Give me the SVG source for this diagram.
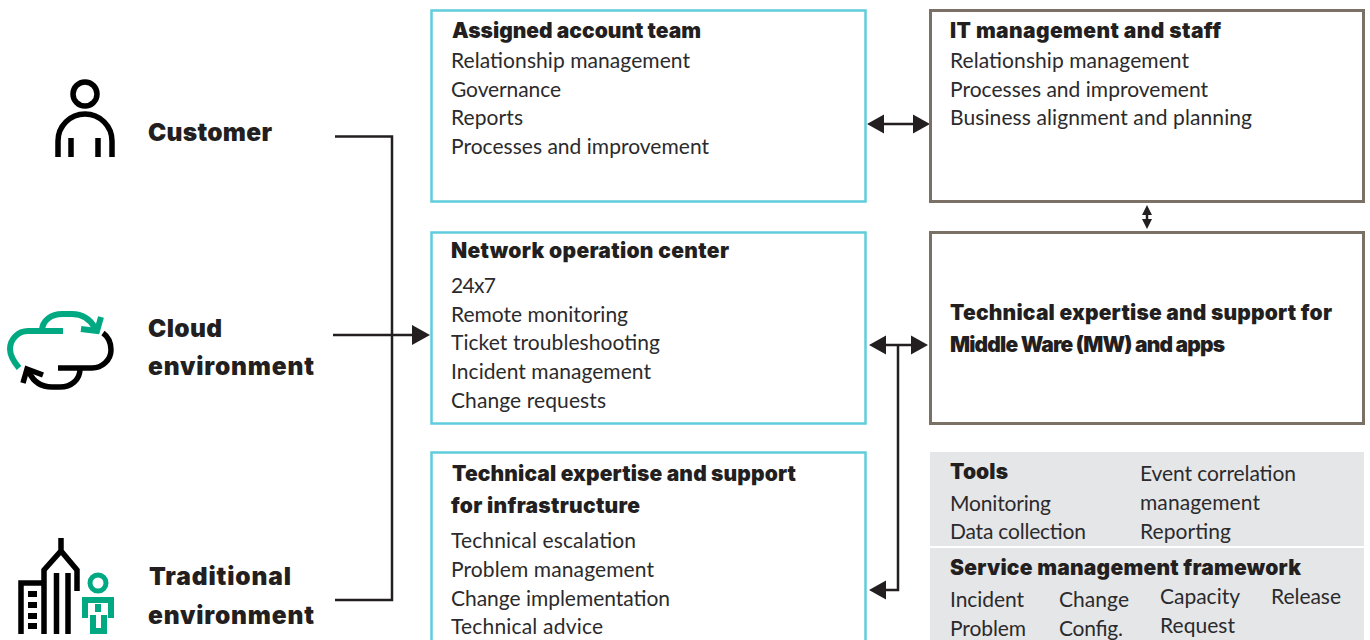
<svg xmlns="http://www.w3.org/2000/svg" width="1370" height="640" viewBox="0 0 1370 640">
<style>
text{font-family:"Lato","Open Sans","Liberation Sans",sans-serif;fill:#2b2a2c;font-size:21px}
.b{font-family:"Inter","Lato",sans-serif;font-weight:900;font-size:21px;fill:#231f20}
.l{font-family:"Inter","Lato",sans-serif;font-weight:900;font-size:24.500px;fill:#231f20}
.teal{fill:#fff;stroke:#5fcddb;stroke-width:2.5}
.brown{fill:#fff;stroke:#7a7066;stroke-width:3}
.gray{fill:#e5e6e8}
.ln{fill:none;stroke:#231f20;stroke-width:2.5}
.k{fill:none;stroke:#000;stroke-width:5.500}
.g{fill:none;stroke:#01a982;stroke-width:6}
.h{fill:#231f20}
</style>
<rect width="1370" height="640" fill="#fff"/>
<g id="icon-customer">
<circle class="k" cx="85" cy="94" r="12"/>
<path class="k" d="M58,157V141A27,27 0 0 1 112,141V157M71,138V157M98,138V157"/>
</g>
<g id="icon-cloud">
<path class="g" d="M63,331H28A18,18 0 0 0 10,349C10,356 14,362 19,368M42,331C42,320 52,314 62,314H72C82,314 90,319 95,328"/>
<path class="g" d="M81,329L97,331L101,317"/>
<path class="k" d="M103,333C110,338 111,344 111,350C111,360 102,368 92,368H58M80,369C80,380 71,387 60,387H52C42,387 34,383 29,372"/>
<path class="k" d="M43,375L27,369L23,383"/>
</g>
<g id="icon-traditional">
<path class="k" d="M21,634V583H44M44,634V570L61,551L77,570V591M61,538V552M56.500,573V634M68,573V634"/>
<path d="M28,591h9v6h-9zM28,602h9v6h-9zM28,613h9v6h-9zM28,623h9v6h-9z" fill="#000"/>
<circle cx="98" cy="583" r="8" fill="none" stroke="#01a982" stroke-width="5"/>
<path class="g" d="M85,618V600H111V618"/>
<path d="M95,604h6v8h-6z" fill="#01a982"/>
<path class="g" stroke-width="4.500" d="M93,615V631H104V615"/>
</g>
<g id="label-customer"><text class="l" x="148" y="141" textLength="124">Customer</text></g>
<g id="label-cloud"><text class="l" x="148" y="337" textLength="74">Cloud</text><text class="l" x="148" y="375" textLength="166">environment</text></g>
<g id="label-traditional"><text class="l" x="149" y="585" textLength="142">Traditional</text><text class="l" x="148" y="624" textLength="166">environment</text></g>
<g id="connectors">
<path class="ln" d="M335,136.500H392V600H335M333,335H415"/>
<path class="h" d="M430,335L412,325V345Z"/>
<path class="ln" d="M880,124H915"/>
<path class="h" d="M867,124L884,114.500V133.500ZM930,124L913,114.500V133.500Z"/>
<path class="ln" d="M1147,210V224"/>
<path class="h" d="M1147,205L1142,215H1152ZM1147,229L1142,219H1152Z"/>
<path class="ln" d="M882,345H915M898,345V590H882"/>
<path class="h" d="M869,345L886,335.500V354.500ZM928,345L911,335.500V354.500ZM869,590L886,580.500V599.500Z"/>
</g>
<g id="assigned-account-team">
<rect class="teal" x="431.500" y="10.500" width="434" height="191"/>
<text class="b" x="452" y="38" textLength="249">Assigned account team</text>
<text x="451" y="68" textLength="239">Relationship management</text>
<text x="451" y="97" textLength="110">Governance</text>
<text x="451" y="125" textLength="72">Reports</text>
<text x="451" y="154" textLength="258">Processes and improvement</text>
</g>
<g id="it-management">
<rect class="brown" x="930.500" y="10.500" width="433" height="191"/>
<text class="b" x="950" y="38" textLength="271">IT management and staff</text>
<text x="950" y="68" textLength="239">Relationship management</text>
<text x="950" y="97" textLength="258">Processes and improvement</text>
<text x="950" y="125" textLength="302">Business alignment and planning</text>
</g>
<g id="network-operation-center">
<rect class="teal" x="431.500" y="232.500" width="434" height="191"/>
<text class="b" x="451" y="258" textLength="278">Network operation center</text>
<text x="451" y="293" textLength="45">24x7</text>
<text x="451" y="322" textLength="177">Remote monitoring</text>
<text x="451" y="350" textLength="209">Ticket troubleshooting</text>
<text x="451" y="379" textLength="200">Incident management</text>
<text x="451" y="408" textLength="155">Change requests</text>
</g>
<g id="middleware-support">
<rect class="brown" x="930.500" y="232.500" width="433" height="191"/>
<text class="b" x="950" y="320" textLength="382">Technical expertise and support for</text>
<text class="b" x="950" y="352" textLength="275">Middle Ware (MW) and apps</text>
</g>
<g id="infrastructure-support">
<rect class="teal" x="431.500" y="452.500" width="434" height="200"/>
<text class="b" x="452" y="481" textLength="344">Technical expertise and support</text>
<text class="b" x="451" y="513" textLength="189">for infrastructure</text>
<text x="451" y="548" textLength="185">Technical escalation</text>
<text x="451" y="577" textLength="203">Problem management</text>
<text x="451" y="606" textLength="219">Change implementation</text>
<text x="451" y="634" textLength="152">Technical advice</text>
</g>
<g id="tools">
<rect class="gray" x="930" y="452" width="434" height="94"/>
<text class="b" x="950" y="479" textLength="58">Tools</text>
<text x="950" y="511" textLength="101">Monitoring</text>
<text x="950" y="539" textLength="136">Data collection</text>
<text x="1140" y="481" textLength="156">Event correlation</text>
<text x="1140" y="510" textLength="120">management</text>
<text x="1140" y="539" textLength="91">Reporting</text>
</g>
<g id="service-management-framework">
<rect class="gray" x="930" y="548" width="434" height="92"/>
<text class="b" x="950" y="575" textLength="351">Service management framework</text>
<text x="950" y="607" textLength="74">Incident</text>
<text x="950" y="636" textLength="76">Problem</text>
<text x="1059" y="607" textLength="70">Change</text>
<text x="1059" y="636" textLength="64">Config.</text>
<text x="1160" y="604" textLength="80">Capacity</text>
<text x="1160" y="633" textLength="75">Request</text>
<text x="1271" y="604" textLength="70">Release</text>
</g>
</svg>
